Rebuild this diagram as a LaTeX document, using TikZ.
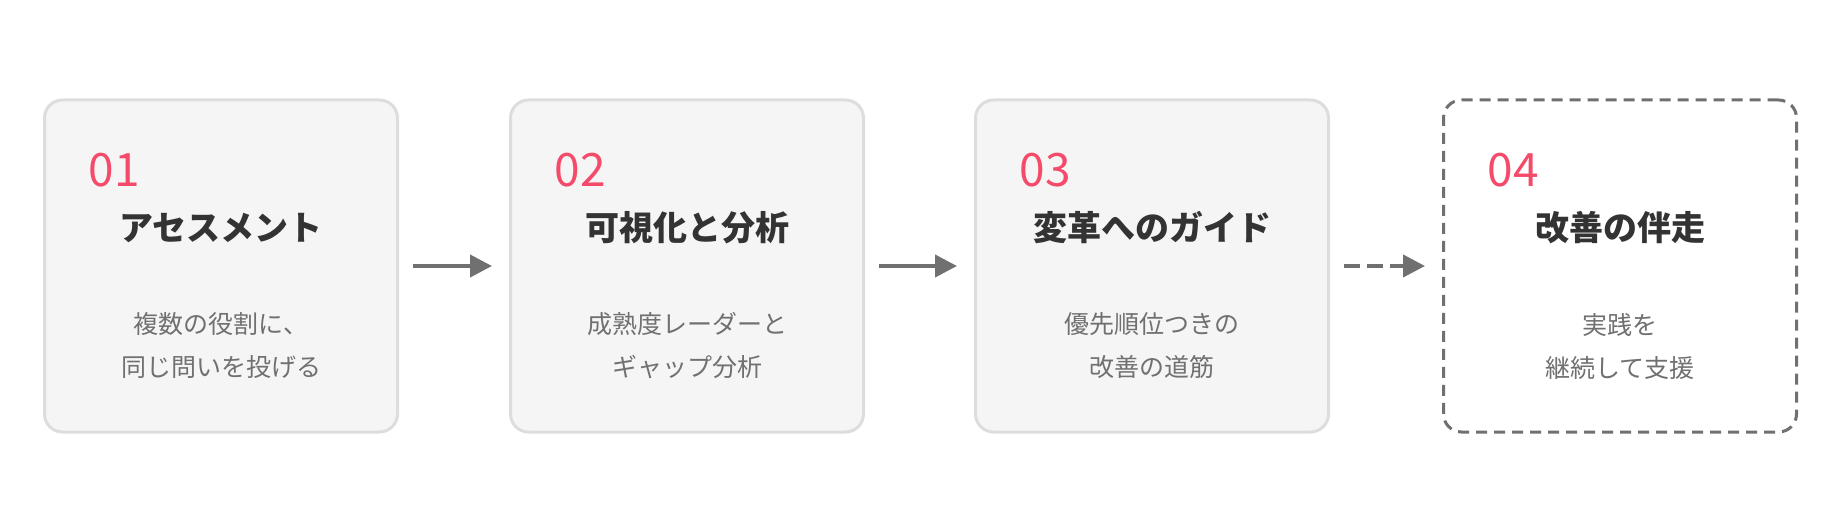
\documentclass[tikz,border=0pt]{standalone}
\usepackage{fontspec}
\setmainfont{Noto Sans CJK JP}
\usetikzlibrary{positioning}
\usetikzlibrary{arrows.meta}
\definecolor{boxfill}{HTML}{F5F5F5}
\definecolor{boxline}{HTML}{DDDDDD}
\definecolor{numred}{HTML}{F54B6B}
\definecolor{titlegray}{HTML}{333333}
\definecolor{descgray}{HTML}{707070}
\definecolor{arrowgray}{HTML}{707070}

\begin{document}
\begin{tikzpicture}[x=1pt, y=-1pt]

        \tikzset{
            stepbox/.style={draw=boxline, fill=boxfill, line width=3pt,
                rounded corners=18pt, minimum width=353pt, minimum height=332pt},
            laterbox/.style={stepbox, draw=arrowgray, fill=white, dash pattern=on 11pt off 7pt},
            num/.style={text=numred, font=\fontsize{46}{50}\selectfont, anchor=west},
            title/.style={text=titlegray, font=\fontsize{34}{40}\selectfont\bfseries},
            desc/.style={text=descgray, font=\fontsize{25}{43}\selectfont, align=center},
            flow/.style={draw=arrowgray, line width=4pt, -{Triangle[length=22pt, width=22pt]}}
        }

        \useasboundingbox (0,0) rectangle (1838,532);

        % the four steps
        \node[stepbox] (S1) at (221,266) {};
        \node[stepbox] (S2) at (687,266) {};
        \node[stepbox] (S3) at (1152,266) {};
        \node[laterbox] (S4) at (1620,266) {};

        \foreach \i/\x/\t/\d in {1/221/アセスメント/{複数の役割に、\\同じ問いを投げる},
                2/687/可視化と分析/{成熟度レーダーと\\ギャップ分析},
                3/1152/変革へのガイド/{優先順位つきの\\改善の道筋},
                4/1620/改善の伴走/{実践を\\継続して支援}}
        {
            \node[num] (N\i) at (\x-136,170) {0\i};
            \node[title] (T\i) at (\x,228) {\t};
            \node[desc] (D\i) at (\x,346) {\d};
        }

        \begin{scope}
            \draw[flow] ([xshift=14pt]S1.east) -- ([xshift=-17pt]S2.west);
            \draw[flow] ([xshift=14pt]S2.east) -- ([xshift=-17pt]S3.west);
            \draw[flow, dash pattern=on 16pt off 7pt]
                ([xshift=14pt]S3.east) -- ([xshift=-17pt]S4.west);
        \end{scope}

\end{tikzpicture}
\end{document}
